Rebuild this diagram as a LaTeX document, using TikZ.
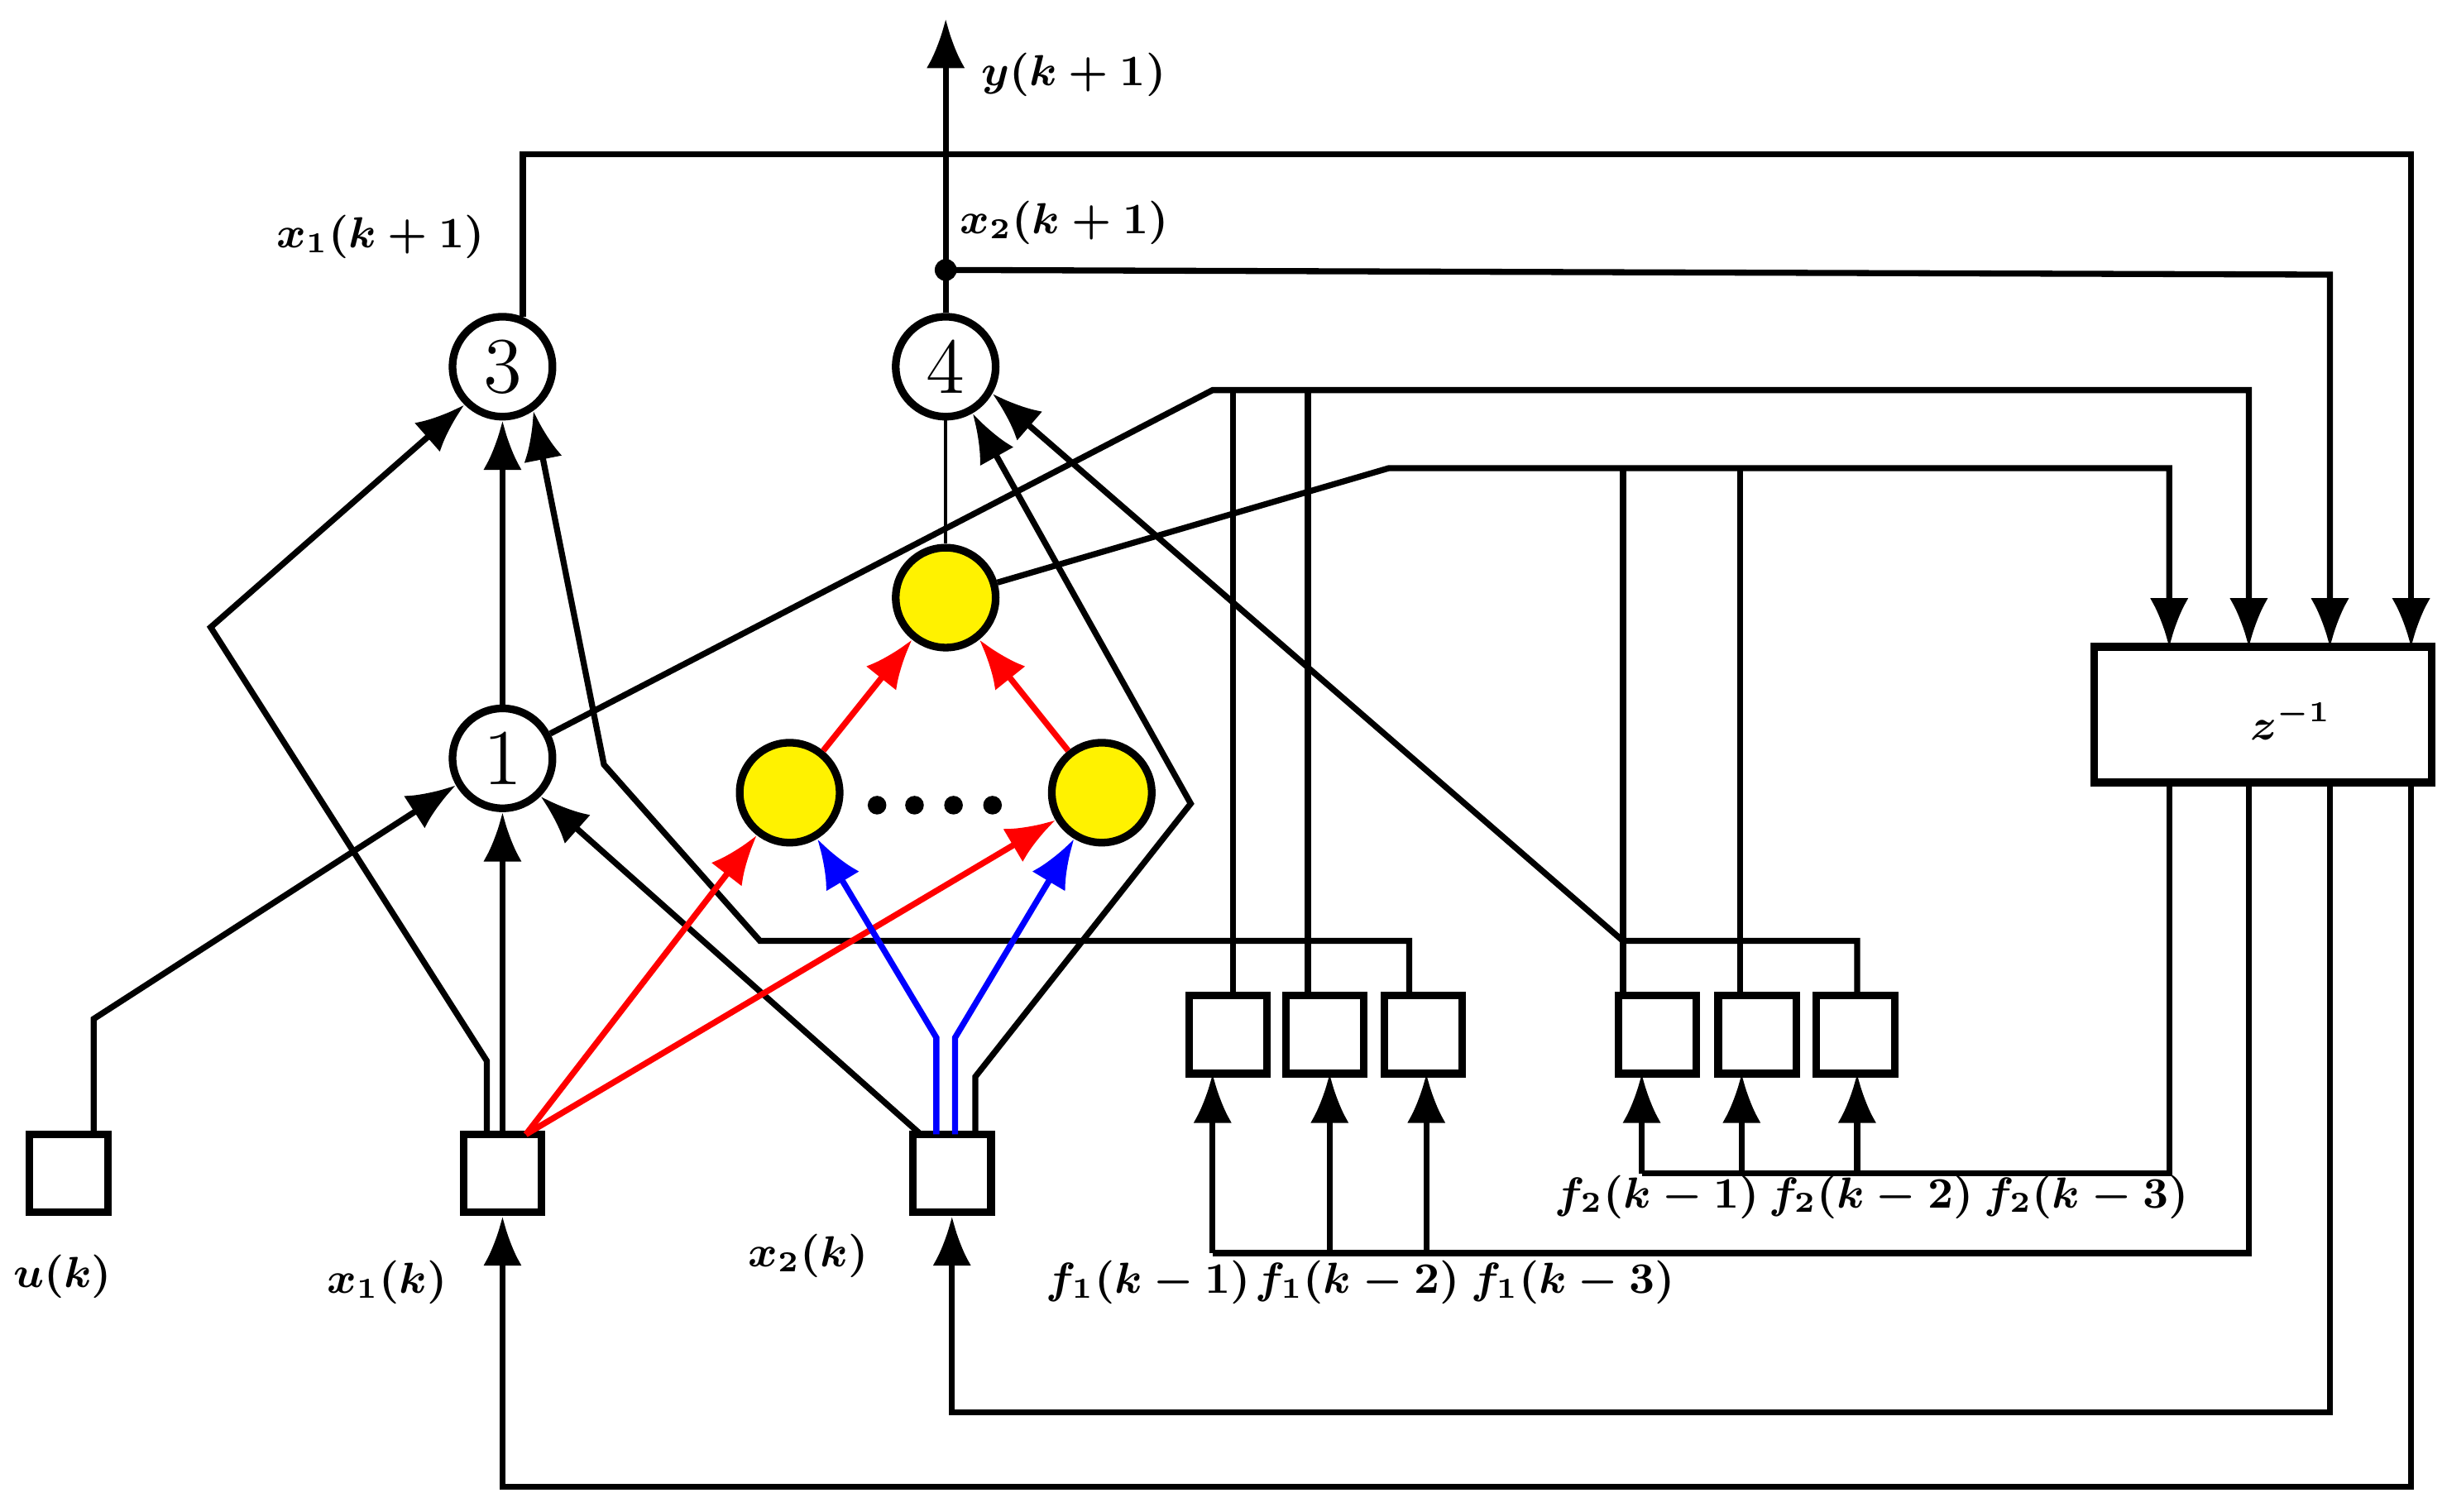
\documentclass[tikz,border=0pt]{standalone}
\usepackage{amsmath,amssymb,bm}
\usetikzlibrary{arrows.meta}
\begin{document}
\begin{tikzpicture}[x=0.01cm,y=-0.01cm,line width=1.1pt,>={Latex[length=9pt,width=7pt]},
  neuron/.style={circle,draw,line width=1.4pt,minimum size=0.64cm,inner sep=0pt,font=\Large},
  hidden/.style={neuron,fill=yellow},
  inp/.style={rectangle,draw,line width=1.4pt,minimum size=0.5cm,inner sep=0pt},
  lab/.style={font=\small\boldmath,inner sep=1pt,scale=0.88}]
			\useasboundingbox (0,0) rectangle (1568,969);
			% ノードの定義
			\node[neuron] (n3) at (322,235) {3};
			\node[neuron] (n4) at (606,235) {4};
			\node[neuron] (n1) at (322,486) {1};
			\node[hidden] (ht) at (606,383) {};
			\node[hidden] (hl) at (506,508) {};
			\node[hidden] (hr) at (706,508) {};
			\foreach \xx in {562,586,611,636} \fill (\xx,516) circle (1.7pt);
			\node[inp] (u) at (44,752) {};
			\node[inp] (x1) at (322,752) {};
			\node[inp] (x2) at (610,752) {};
			\node[inp] (a1) at (787,663) {};
			\node[inp] (a2) at (849,663) {};
			\node[inp] (a3) at (912,663) {};
			\node[inp] (b1) at (1062,663) {};
			\node[inp] (b2) at (1126,663) {};
			\node[inp] (b3) at (1189,663) {};
			\node[draw,line width=1.4pt,minimum width=2.16cm,minimum height=0.87cm] (z) at (1450,458) {};
			\node[lab] at (1468,462) {$z^{-1}$};
			% ラベル
			\node[lab] at (688,48) {$y(k+1)$};
			\node[lab] at (682,143) {$x_2(k+1)$};
			\node[lab] at (244,152) {$x_1(k+1)$};
			\node[lab] at (40,818) {$u(k)$};
			\node[lab] at (248,822) {$x_1(k)$};
			\node[lab] at (518,805) {$x_2(k)$};
			\node[lab] at (736,822) {$f_1(k-1)$};
			\node[lab] at (870,822) {$f_1(k-2)$};
			\node[lab] at (1008,822) {$f_1(k-3)$};
			\node[lab] at (1062,767) {$f_2(k-1)$};
			\node[lab] at (1199,767) {$f_2(k-2)$};
			\node[lab] at (1337,767) {$f_2(k-3)$};
			% 出力と遅延
			\coordinate (o2) at (606,173);
			\fill (o2) circle (2pt);
			\draw[->] (n4) -- (606,12);
			\draw[->] (o2) -- (1493,176) -- (1493,415);
			\draw[->] (335,203) -- (335,99) -- (1545,99) -- (1545,415);
			\draw[->] (n1) -- (777,250) -- (1441,250) -- (1441,415);
			\draw (790,250) -- (a1.north -| 790,0);
			\draw (838,250) -- (a2.north -| 838,0);
			\draw[->] (ht) -- (890,300) -- (1390,300) -- (1390,415);
			\draw (1040,300) -- (b1.north -| 1040,0);
			\draw (1115,300) -- (b2.north -| 1115,0);
			% 4への入力
			\draw[line width=0.6pt] (ht) -- (n4);
			\draw[->] (625,727) -- (625,690) -- (763,515) -- (n4.-60);
			\draw[->] (1190,638) -- (1190,603) -- (1040,603) -- (n4.-30);
			% 3への入力
			\draw[->] (n1) -- (n3);
			\draw[->] (312,727) -- (312,680) -- (135,402) -- (n3.-135);
			\draw[->] (903,638) -- (903,603) -- (487,603) -- (387,490) -- (n3.-55);
			% 1への入力
			\draw[->] (60,727) -- (60,653) -- (n1.-150);
			\draw[->] (x1) -- (n1);
			\draw[->] (590,727) -- (n1.-45);
			% 隠れ層
			\draw[->,red] (337,727) -- (hl);
			\draw[->,red] (337,727) -- (hr);
			\draw[->,red] (hl) -- (ht);
			\draw[->,red] (hr) -- (ht);
			\draw[->,blue] (600,727) -- (600,665) -- (hl);
			\draw[->,blue] (612,727) -- (612,665) -- (hr);
			% 遅延入力
			\draw (1441,502) -- (1441,803) -- (777,803);
			\foreach \xx in {777,852,914}
				\draw[->] (\xx,803) -- (\xx,688);
			\draw (1390,502) -- (1390,752) -- (1052,752);
			\foreach \xx in {1052,1116,1190}
				\draw[->] (\xx,752) -- (\xx,688);
			\draw[->] (1493,502) -- (1493,905) -- (610,905) -- (x2);
			\draw[->] (1545,502) -- (1545,953) -- (322,953) -- (x1);
		\end{tikzpicture}
\end{document}
